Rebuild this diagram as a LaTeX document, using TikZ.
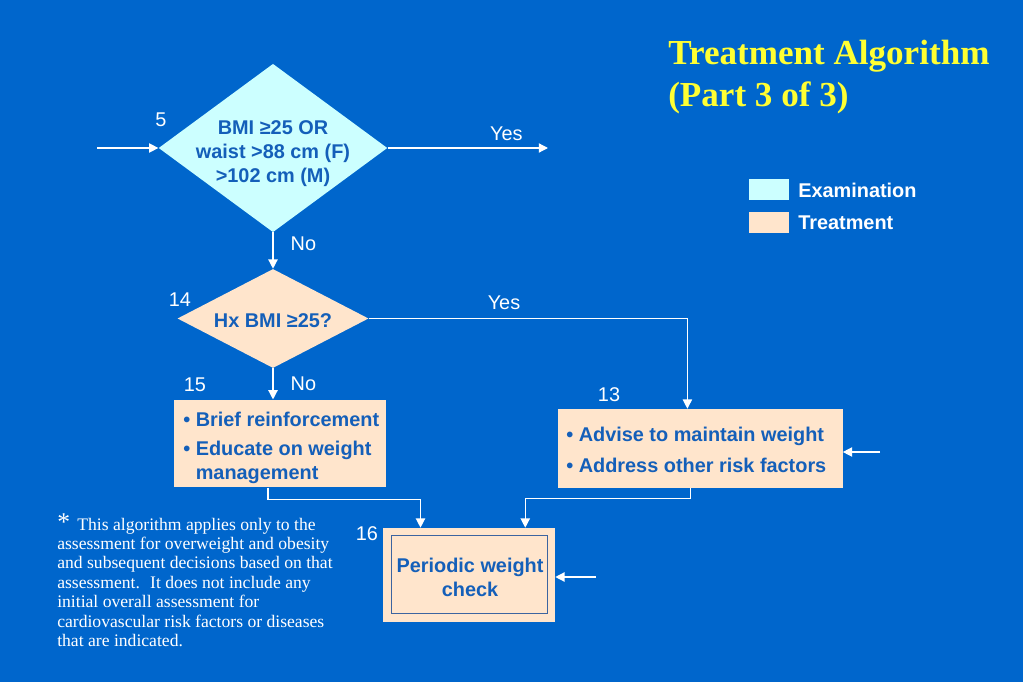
\documentclass[tikz,border=0pt]{standalone}
\usepackage{fontspec}
\setmainfont{Liberation Serif}
\setsansfont{Liberation Sans}
\usepackage{xcolor}
\usetikzlibrary{shapes,arrows.meta,calc}
\definecolor{slideblue}{RGB}{0,102,204}
\definecolor{examcol}{RGB}{204,255,255}
\definecolor{treatcol}{RGB}{255,229,204}
\definecolor{inkblue}{RGB}{20,95,185}
\definecolor{titleyellow}{RGB}{255,255,51}
\definecolor{rimblue}{RGB}{60,100,160}
\tikzset{
  examdia/.style={diamond, fill=examcol, inner sep=0pt},
  treatdia/.style={diamond, fill=treatcol, inner sep=0pt},
  treatbox/.style={rectangle, fill=treatcol, inner sep=0pt},
  boxtext/.style={text=inkblue, font=\fontsize{14}{16.9}\selectfont\sffamily\bfseries},
  tag/.style={text=white, font=\fontsize{14}{16.9}\selectfont\sffamily, inner sep=0pt},
  arr/.style={white, line width=0.9pt, -{Triangle[length=6.5pt,width=6.5pt]}}
}
\begin{document}
\begin{tikzpicture}[x=0.704pt,y=-0.704pt]
    \useasboundingbox (0,0) rectangle (1023,682);
    \fill[slideblue] (0,0) rectangle (1023,682);

    \node[anchor=north west, inner sep=0pt, text=titleyellow, align=left,
          font=\fontsize{24.7}{29.5}\selectfont\rmfamily\bfseries] (title) at (668,40)
          {Treatment Algorithm\\(Part 3 of 3)};

    \node[treatbox, fill=examcol, minimum width=28.2pt, minimum height=14.8pt] (keyexam) at (769,189.5) {};
    \node[treatbox, minimum width=28.2pt, minimum height=14.8pt] (keytreat) at (769,222.5) {};
    \node[tag, font=\fontsize{14}{16.9}\selectfont\sffamily\bfseries, anchor=west] at (798,190) {Examination};
    \node[tag, font=\fontsize{14}{16.9}\selectfont\sffamily\bfseries, anchor=west] at (798,223) {Treatment};

    \node[examdia, minimum width=161pt, minimum height=118.5pt] (bmi) at (273,148) {};
    \node[boxtext, align=center] (bmitext) at (273,154) {BMI ≥25 OR\\waist >88 cm (F)\\>102 cm (M)};
    \node[treatdia, minimum width=134.5pt, minimum height=69.7pt] (hx) at (273,318.5) {};
    \node[boxtext] (hxtext) at (273,321) {Hx BMI ≥25?};

    \node[treatbox, minimum width=149.3pt, minimum height=61.6pt] (brief) at (280,443.5) {};
    \node[boxtext, align=left, anchor=north west, inner sep=0pt] (brieftext) at (183,412)
          {\textbullet\ Brief reinforcement\\[3.5pt]\textbullet\ Educate on weight\\\phantom{\textbullet\ }management};
    \node[treatbox, minimum width=200pt, minimum height=55.6pt] (advise) at (700.5,448.5) {};
    \node[boxtext, align=left, anchor=north west, inner sep=0pt] (advisetext) at (566,427)
          {\textbullet\ Advise to maintain weight\\[5pt]\textbullet\ Address other risk factors};
    \node[treatbox, minimum width=121.1pt, minimum height=66.2pt] (check) at (469,575) {};
    \node[draw=rimblue, line width=0.7pt, minimum width=110.5pt, minimum height=55.6pt] (checkrim) at (469.5,574.5) {};
    \node[boxtext, align=center] (checktext) at (470,577) {Periodic weight\\check};

    \node[tag] at (161,120) {5};
    \node[tag] at (180,300) {14};
    \node[tag] at (195,385) {15};
    \node[tag] at (609,395) {13};
    \node[tag] at (367,534) {16};

    \coordinate (in5) at (97,148);
    \coordinate (yes5) at (548,148);
    \coordinate (in13) at (880,452);
    \coordinate (in16) at (596,577);

    \draw[arr] (in5) -- (bmi.west);
    \draw[arr] (bmi.east) -- (yes5) node[tag, pos=0.74, above=5pt] {Yes};
    \draw[arr] (bmi.south) -- (hx.north) node[tag, pos=0.3, right=12pt] {No};
    \draw[arr] (hx.east) -| ($(advise.north west)!0.454!(advise.north east)$);
    \node[tag] at (504,303) {Yes};
    \draw[arr] (hx.south) -- (hx.south |- brief.north) node[tag, midway, right=12pt] {No};
    \draw[arr] ($(brief.south west)!0.443!(brief.south east)$) -- ++(0,12) -| ($(check.north west)!0.219!(check.north east)$);
    \draw[arr] ($(advise.south west)!0.465!(advise.south east)$) -- ++(0,10) -| ($(check.north west)!0.826!(check.north east)$);
    \draw[arr] (in13) -- (in13 -| advise.east);
    \draw[arr] (in16) -- (in16 -| check.east);

    \node[anchor=north west, inner sep=0pt, text=white, align=left,
          font=\fontsize{12.4}{13.7}\selectfont\rmfamily] (note) at (57,513)
          {{\fontsize{18}{13.7}\selectfont *}\, This algorithm applies only to the\\
           assessment for overweight and obesity\\
           and subsequent decisions based on that\\
           assessment.~ It does not include any\\
           initial overall assessment for\\
           cardiovascular risk factors or diseases\\
           that are indicated.};
\end{tikzpicture}
\end{document}
